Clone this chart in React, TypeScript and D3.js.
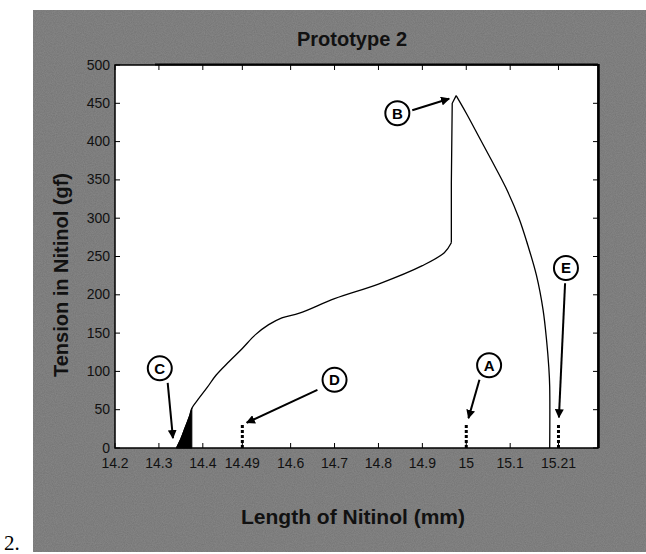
import * as d3 from "d3";

// length of nitinol (mm) and tension (gf)
const lengthMm = [
  14.34, 14.35, 14.36, 14.37, 14.375, 14.39, 14.41, 14.43, 14.46, 14.49, 14.52,
  14.55, 14.58, 14.62, 14.7, 14.8, 14.9, 14.95, 14.966, 14.966, 14.968, 14.977,
  15.0, 15.03, 15.06, 15.09, 15.12, 15.14, 15.16, 15.175, 15.183, 15.188, 15.19, 15.19,
];
const tensionGf = [
  0, 12, 27, 42, 52, 64, 79, 95, 113, 130, 148,
  161, 170, 176, 195, 214, 238, 255, 268, 345, 450, 460,
  437, 405, 373, 340, 300, 265, 225, 180, 140, 105, 80, 0,
];
// index where the sudden jump starts, and the peak
const jumpStart = 18;
const peakIndex = 21;

// the densely cycled, filled-in region at the start of loading
const fillLength = [14.34, 14.35, 14.36, 14.37, 14.375, 14.375];
const fillTension = [0, 12, 27, 42, 52, 0];

const xTicks = [14.2, 14.3, 14.4, 14.49, 14.6, 14.7, 14.8, 14.9, 15, 15.1, 15.21];
const xTickLabels = ["14.2", "14.3", "14.4", "14.49", "14.6", "14.7", "14.8", "14.9", "15", "15.1", "15.21"];
const yTicks = [0, 50, 100, 150, 200, 250, 300, 350, 400, 450, 500];

// dotted reference marks at the bottom
const markLength = [14.49, 15.0, 15.21];
const markHeight = [30, 30, 30];

// lettered callouts: circle centre, arrow tail, arrow tip (data units)
const calloutLetters = ["A", "B", "C", "D", "E"];
const calloutCircle = [[15.052, 108], [14.843, 437], [14.302, 104], [14.7, 89], [15.227, 235]];
const calloutTail = [[15.03, 89], [14.877, 441], [14.32, 85], [14.661, 76], [15.225, 215]];
const calloutTip = [[15.005, 39], [14.961, 456], [14.332, 13], [14.5, 33], [15.211, 40]];

const W = 646;
const H = 554;
const margin = { left: 115, right: 48, top: 65, bottom: 106 };

export default function App() {
  const x = d3.scaleLinear().domain([14.2, 15.3]).range([margin.left, W - margin.right]);
  const y = d3.scaleLinear().domain([0, 500]).range([H - margin.bottom, margin.top]);

  const points = lengthMm.map((l, i) => [l, tensionGf[i]] as [number, number]);
  const line = d3
    .line<[number, number]>()
    .x((d) => x(d[0]))
    .y((d) => y(d[1]));
  const smooth = d3
    .line<[number, number]>()
    .x((d) => x(d[0]))
    .y((d) => y(d[1]))
    .curve(d3.curveCatmullRom.alpha(0.5));
  const fillPts = fillLength.map((l, i) => [l, fillTension[i]] as [number, number]);

  const rise = points.slice(0, jumpStart + 1);
  const jump = points.slice(jumpStart, peakIndex + 1);
  const fall = points.slice(peakIndex);

  const x0 = x.range()[0];
  const x1 = x.range()[1];
  const y0 = y.range()[0];
  const y1 = y.range()[1];
  const tickFont = "'Liberation Sans Narrow', 'Liberation Sans', Arial, sans-serif";
  const boldFont = "'Liberation Sans', Arial, sans-serif";

  return (
    <svg
      width={W}
      height={H}
      viewBox={`0 0 ${W} ${H}`}
      style={{ position: "absolute", left: 0, top: 0, background: "#fff" }}
    >
      <defs>
        <marker id="arrow" viewBox="0 0 10 10" refX="9" refY="5" markerWidth="4.5" markerHeight="4.5" orient="auto">
          <path d="M0,0 L10,5 L0,10 z" fill="#000" />
        </marker>
        <filter id="grain" x="0" y="0" width="100%" height="100%">
          <feTurbulence type="fractalNoise" baseFrequency="0.9" numOctaves="2" seed="3" result="n" />
          <feColorMatrix
            in="n"
            type="matrix"
            values="0 0 0 0 0.44  0 0 0 0 0.44  0 0 0 0 0.44  0 0 0 0.35 0"
            result="g"
          />
          <feComposite in="g" in2="SourceGraphic" operator="in" />
        </filter>
      </defs>

      <rect x={33} y={10} width={W - 33} height={542} fill="#737373" />
      <rect x={33} y={10} width={W - 33} height={542} fill="#737373" filter="url(#grain)" />

      {/* plot area */}
      <rect x={x0} y={y1} width={x1 - x0} height={y0 - y1} fill="#fff" stroke="#000" strokeWidth={1.5} />
      <line x1={x1 + 0.5} x2={x1 + 0.5} y1={y1 - 1} y2={y0} stroke="#000" strokeWidth={2.5} />
      <line x1={x0 + 40} x2={x1} y1={y1 - 0.5} y2={y1 - 0.5} stroke="#000" strokeWidth={2} />

      {/* ticks */}
      {xTicks.map((t, i) => (
        <g key={`xt${i}`}>
          <line x1={x(t)} x2={x(t)} y1={y0} y2={y0 - 5} stroke="#000" />
          <line x1={x(t)} x2={x(t)} y1={y1} y2={y1 + 5} stroke="#000" />
          <text
            x={x(t)}
            y={y0 + 20}
            textAnchor="middle"
            fontFamily={tickFont}
            fontSize={14}
            fill="#111"
          >
            {xTickLabels[i]}
          </text>
        </g>
      ))}
      {yTicks.map((t) => (
        <g key={`yt${t}`}>
          <line x1={x0} x2={x0 + 5} y1={y(t)} y2={y(t)} stroke="#000" />
          <line x1={x1} x2={x1 - 5} y1={y(t)} y2={y(t)} stroke="#000" />
          <text
            x={x0 - 5}
            y={y(t) + 4.5}
            textAnchor="end"
            fontFamily={tickFont}
            fontSize={14}
            fill="#111"
          >
            {t}
          </text>
        </g>
      ))}

      {/* data */}
      <path d={line(fillPts) + "Z"} fill="#000" stroke="#000" strokeWidth={1} />
      <path d={smooth(rise) ?? ""} fill="none" stroke="#000" strokeWidth={1.3} />
      <path d={line(jump) ?? ""} fill="none" stroke="#000" strokeWidth={1.3} />
      <path d={smooth(fall) ?? ""} fill="none" stroke="#000" strokeWidth={1.3} />

      {markLength.map((m, i) => (
        <line
          key={`m${i}`}
          x1={x(m)}
          x2={x(m)}
          y1={y(0)}
          y2={y(markHeight[i])}
          stroke="#000"
          strokeWidth={3}
          strokeDasharray="3,2"
        />
      ))}

      {calloutLetters.map((c, i) => (
        <g key={c}>
          <line
            x1={x(calloutTail[i][0])}
            y1={y(calloutTail[i][1])}
            x2={x(calloutTip[i][0])}
            y2={y(calloutTip[i][1])}
            stroke="#000"
            strokeWidth={2}
            markerEnd="url(#arrow)"
          />
          <circle
            cx={x(calloutCircle[i][0])}
            cy={y(calloutCircle[i][1])}
            r={12}
            fill="#fff"
            stroke="#000"
            strokeWidth={2}
          />
          <text
            x={x(calloutCircle[i][0])}
            y={y(calloutCircle[i][1]) + 5.5}
            textAnchor="middle"
            fontFamily={boldFont}
            fontWeight="bold"
            fontSize={15}
          >
            {c}
          </text>
        </g>
      ))}

      {/* titles */}
      <text x={352} y={46} textAnchor="middle" fontFamily={boldFont} fontWeight="bold" fontSize={20} fill="#111">
        Prototype 2
      </text>
      <text x={353} y={524} textAnchor="middle" fontFamily={boldFont} fontWeight="bold" fontSize={21} fill="#111">
        Length of Nitinol (mm)
      </text>
      <text
        transform="translate(68,275) rotate(-90)"
        textAnchor="middle"
        fontFamily={boldFont}
        fontWeight="bold"
        fontSize={20}
        fill="#111"
      >
        Tension in Nitinol (gf)
      </text>
      <text x={4} y={550} fontFamily="'Liberation Serif', 'Times New Roman', serif" fontSize={21} fill="#000">
        2.
      </text>
    </svg>
  );
}
